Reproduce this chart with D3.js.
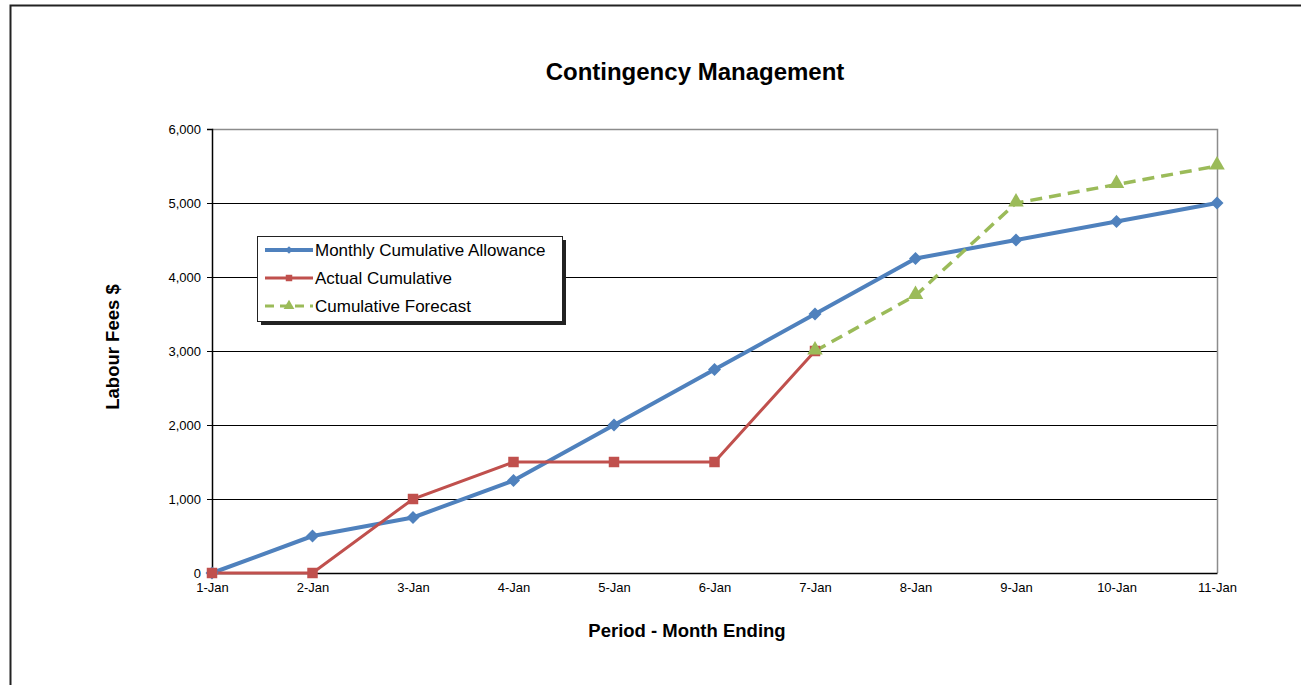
<!DOCTYPE html>
<html>
<head>
<meta charset="utf-8">
<script src="https://cdn.jsdelivr.net/npm/d3@7"></script>
<style>
  body { margin: 0; background: #fff; }
  svg { display: block; font-family: "Liberation Sans", Arial, sans-serif; }
</style>
</head>
<body>
<div id="chart"></div>
<script>
const months = ["1-Jan","2-Jan","3-Jan","4-Jan","5-Jan","6-Jan","7-Jan","8-Jan","9-Jan","10-Jan","11-Jan"];
const allowance = [0, 500, 750, 1250, 2000, 2750, 3500, 4250, 4500, 4750, 5000];
const actual = [0, 0, 1000, 1500, 1500, 1500, 3000];
const forecastMonths = ["7-Jan","8-Jan","9-Jan","10-Jan","11-Jan"];
const forecast = [3000, 3750, 5000, 5250, 5500];
const yTicks = [0, 1000, 2000, 3000, 4000, 5000, 6000];

const W = 1301, H = 685;
const M = { TOP: 129, LEFT: 212, RIGHT: 84, BOTTOM: 112 };
const WIDTH = W - M.LEFT - M.RIGHT;
const HEIGHT = H - M.TOP - M.BOTTOM;

const svg = d3.select("#chart").append("svg")
  .attr("width", W).attr("height", H);

// outer chart border (only top and left are visible in the frame)
svg.append("rect")
  .attr("x", 10.5).attr("y", 5.5)
  .attr("width", W + 20).attr("height", H + 20)
  .attr("fill", "none").attr("stroke", "#222").attr("stroke-width", 2);

const g = svg.append("g").attr("transform", `translate(${M.LEFT}, ${M.TOP})`);

const x = d3.scalePoint().domain(months).range([0, WIDTH]);
const y = d3.scaleLinear().domain([0, 6000]).range([HEIGHT, 0]);

// gridlines
g.selectAll(".grid").data(yTicks.filter(d => d > 0 && d < 6000))
  .enter().append("line")
  .attr("x1", 0).attr("x2", WIDTH)
  .attr("y1", d => Math.round(y(d)) + 0.5).attr("y2", d => Math.round(y(d)) + 0.5)
  .attr("stroke", "#000").attr("stroke-width", 1);

// plot area top / right border (gray)
g.append("path")
  .attr("d", `M0,${y(6000) + 0.5}H${WIDTH + 0.5}V${HEIGHT}`)
  .attr("fill", "none").attr("stroke", "#8c8c8c").attr("stroke-width", 1.5);

// axes
const yAxis = g.append("g")
  .call(d3.axisLeft(y).tickValues(yTicks).tickFormat(d3.format(",")).tickSize(5).tickPadding(6));
yAxis.select(".domain").attr("d", `M-5,0.5H0.5V${HEIGHT}`).attr("stroke", "#000").attr("stroke-width", 1.5);
yAxis.selectAll("text").style("font-size", "13px").attr("fill", "#000");

const xAxis = g.append("g").attr("transform", `translate(0, ${HEIGHT})`)
  .call(d3.axisBottom(x).tickSize(0).tickPadding(10));
xAxis.select(".domain").attr("stroke", "#000").attr("stroke-width", 1.5);
xAxis.selectAll("text").style("font-size", "13px").attr("fill", "#000");

const blue = "#4F81BD", red = "#C0504D", green = "#9BBB59";

const line = d3.line().x(d => x(d[0])).y(d => y(d[1]));

// allowance line
const allowData = months.map((m, i) => [m, allowance[i]]);
g.append("path").datum(allowData).attr("d", line)
  .attr("fill", "none").attr("stroke", blue).attr("stroke-width", 4).attr("stroke-linejoin", "round");

// actual line
const actData = actual.map((v, i) => [months[i], v]);
g.append("path").datum(actData).attr("d", line)
  .attr("fill", "none").attr("stroke", red).attr("stroke-width", 3);

// forecast line
const fcData = forecastMonths.map((m, i) => [m, forecast[i]]);
g.append("path").datum(fcData).attr("d", line)
  .attr("fill", "none").attr("stroke", green).attr("stroke-width", 3.5)
  .attr("stroke-dasharray", "12,7");

// markers (diamond = square rotated 45deg, like Excel)
const diamond = d3.symbol().type(d3.symbolSquare).size(85);
const square = d3.symbol().type(d3.symbolSquare).size(110);
const triangle = d3.symbol().type(d3.symbolTriangle).size(105);

g.selectAll(".m-allow").data(allowData).enter().append("path")
  .attr("transform", d => `translate(${x(d[0])}, ${y(d[1])}) rotate(45)`)
  .attr("d", diamond).attr("fill", blue);

g.selectAll(".m-act").data(actData).enter().append("path")
  .attr("transform", d => `translate(${x(d[0])}, ${y(d[1])})`)
  .attr("d", square).attr("fill", red);

g.selectAll(".m-fc").data(fcData).enter().append("path")
  .attr("transform", d => `translate(${x(d[0])}, ${y(d[1]) - 1})`)
  .attr("d", triangle).attr("fill", green);

// titles
svg.append("text").attr("x", 695).attr("y", 80).attr("text-anchor", "middle")
  .style("font-size", "24px").style("font-weight", "bold").text("Contingency Management");

svg.append("text").attr("x", 687).attr("y", 637).attr("text-anchor", "middle")
  .style("font-size", "18.5px").style("font-weight", "bold").text("Period - Month Ending");

svg.append("text").attr("transform", "translate(119, 347) rotate(-90)").attr("text-anchor", "middle")
  .style("font-size", "18.5px").style("font-weight", "bold").text("Labour Fees $");

// legend
const legendItems = [
  { name: "Monthly Cumulative Allowance", color: blue, type: "diamond", width: 4, dash: null },
  { name: "Actual Cumulative", color: red, type: "square", width: 3, dash: null },
  { name: "Cumulative Forecast", color: green, type: "triangle", width: 3, dash: "9,6" }
];
const leg = svg.append("g").attr("transform", "translate(257, 236)");
leg.append("rect").attr("x", 4).attr("y", 4).attr("width", 305).attr("height", 85).attr("fill", "#222");
leg.append("rect").attr("x", 0.5).attr("y", 0.5).attr("width", 305).attr("height", 85)
  .attr("fill", "#fff").attr("stroke", "#222").attr("stroke-width", 1);

const li = leg.selectAll(".li").data(legendItems).enter().append("g")
  .attr("transform", (d, i) => `translate(0, ${14 + i * 28})`);
li.append("line").attr("x1", 8).attr("x2", 56)
  .attr("stroke", d => d.color).attr("stroke-width", d => d.width)
  .attr("stroke-dasharray", d => d.dash);
li.append("path")
  .attr("transform", d => d.type === "diamond" ? "translate(32, 0) rotate(45)" : "translate(32, 0)")
  .attr("d", d => d3.symbol().type(d.type === "triangle" ? d3.symbolTriangle : d3.symbolSquare)
    .size(d.type === "diamond" ? 30 : d.type === "square" ? 42 : 50)())
  .attr("fill", d => d.color);
li.append("text").attr("x", 58).attr("y", 6)
  .style("font-size", "17px").attr("fill", "#000").text(d => d.name);
</script>
</body>
</html>
